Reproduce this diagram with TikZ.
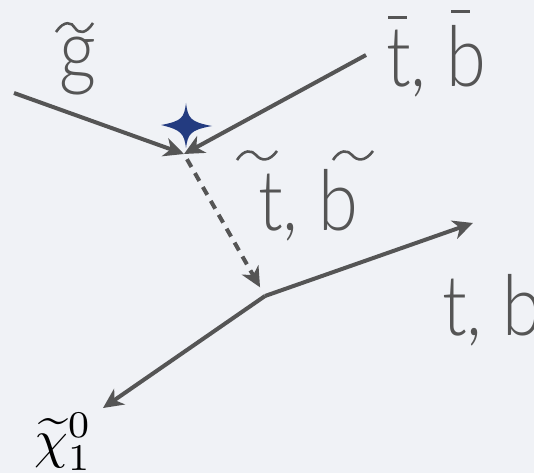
\documentclass[tikz,border=0pt]{standalone}
\usepackage{fontspec}
\setmainfont{Lato Light}
\usetikzlibrary{arrows.meta}
\definecolor{bgc}{HTML}{F0F2F6}
\definecolor{ink}{HTML}{555555}
\definecolor{starc}{HTML}{233B80}
\tikzset{
  prop/.style={draw=ink, line width=4pt},
  tip/.style={-{Stealth[length=20pt,width=19pt,inset=6pt]}},
  lbl/.style={text=ink, inner sep=0pt, anchor=base west, xscale=0.86, font=\fontsize{84}{96}\selectfont},
  tilde/.style={draw=ink, line width=2.6pt},
  bar/.style={draw=ink, line width=3pt}
}
\begin{document}
\begin{tikzpicture}[x=1pt,y=-1pt]
\fill[bgc] (0,0) rectangle (534,473);
\useasboundingbox (0,0) rectangle (534,473);
% vertices and ends
\coordinate (g) at (14,93);
\coordinate (v1) at (184,154);
\coordinate (tb) at (366,55);
\coordinate (v2) at (265,296);
\coordinate (tbout) at (473,223);
\coordinate (chi) at (103,408);
% propagators
\draw[prop, tip] (g) -- (v1);
\draw[prop, tip] (tb) -- (v1);
\draw[prop, tip, dash pattern=on 9pt off 7pt, shorten <=6pt, shorten >=10pt] (v1) -- (v2);
\draw[prop, tip] (v2) -- (tbout);
\draw[prop, tip] (v2) -- (chi);
% star
\fill[starc] (186,103) .. controls (188,118) and (190,122) .. (212,126)
  .. controls (190,130) and (188,134) .. (186,148)
  .. controls (184,134) and (182,130) .. (161,125)
  .. controls (182,121) and (184,118) .. cycle;
% labels
\node[lbl] (lg) at (59,80) {g};
\draw[tilde] (56,32) .. controls (64,20) and (72,22) .. (75,28) .. controls (79,34) and (86,34) .. (93,23);
\node[lbl] (ltop) at (386,87) {t, b};
\draw[bar] (388,18) -- (407,18);
\draw[bar] (451,12) -- (470,12);
\node[lbl] (lmid) at (258,230) {t, b};
\draw[tilde] (237,160) .. controls (244,149) and (252,150) .. (256,155) .. controls (261,161) and (269,162) .. (277,151);
\draw[tilde] (333,160) .. controls (340,149) and (348,150) .. (352,155) .. controls (357,161) and (365,162) .. (373,151);
\node[lbl] (lbot) at (442,335) {t, b};
\node[text=black, inner sep=0pt, anchor=base west, scale=5.4] (lchi) at (33,457) {$\widetilde{\chi}^0_1$};
\end{tikzpicture}
\end{document}
